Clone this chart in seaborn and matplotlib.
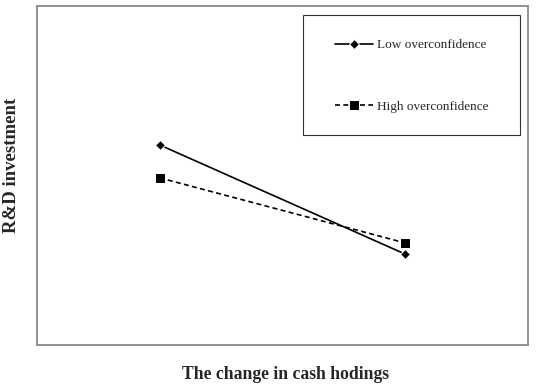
import pandas as pd
import seaborn as sns
import matplotlib.pyplot as plt
from matplotlib.patches import Rectangle

# data (no scale shown, arbitrary units)
cash_change = [0, 1]
low_overconf = [0.59, 0.268]
high_overconf = [0.493, 0.301]

df = pd.DataFrame({
    'x': cash_change * 2,
    'y': low_overconf + high_overconf,
    'group': ['Low overconfidence'] * 2 + ['High overconfidence'] * 2,
})

sns.set_style('white')
plt.rcParams['font.family'] = ['Liberation Serif', 'DejaVu Serif']

fig = plt.figure(figsize=(5.36, 3.88), dpi=100)
ax = fig.add_axes([37 / 536, 1 - 345 / 388, 491 / 536, 339 / 388])

sns.lineplot(data=df[df.group == 'Low overconfidence'], x='x', y='y', ax=ax,
             color='black', lw=1.2, marker='D', markersize=5.5,
             label='Low overconfidence')
sns.lineplot(data=df[df.group == 'High overconfidence'], x='x', y='y', ax=ax,
             color='black', lw=1.2, marker='s', markersize=6.5, linestyle=(0, (3, 2)),
             label='High overconfidence')

ax.set_xlim(-0.5, 1.5)
ax.set_ylim(0, 1)
ax.set_xticks([])
ax.set_yticks([])
for s in ax.spines.values():
    s.set_color('#8a8a8a')
    s.set_linewidth(1.3)

ax.set_xlabel('The change in cash hodings', fontsize=12.7, fontweight='bold')
ax.set_ylabel('R&D investment', fontsize=13.5, fontweight='bold')
ax.xaxis.set_label_coords(0.507, -0.062)
ax.yaxis.set_label_coords(-0.035, 0.531)

# legend entries without frame, box drawn separately (wide padding in original)
leg = ax.legend(loc='upper left', bbox_to_anchor=(0.6069, 0.9027), fontsize=9.5,
                frameon=False, labelspacing=3.74, handlelength=2.9,
                handletextpad=0.3, borderpad=0, borderaxespad=0)
ax.add_patch(Rectangle((0.5418, 0.6195), 0.9837 - 0.5418, 0.9735 - 0.6195,
                       transform=ax.transAxes, fill=False, edgecolor='#333333',
                       lw=0.8, zorder=1))

fig.savefig('out.png', dpi=100)
